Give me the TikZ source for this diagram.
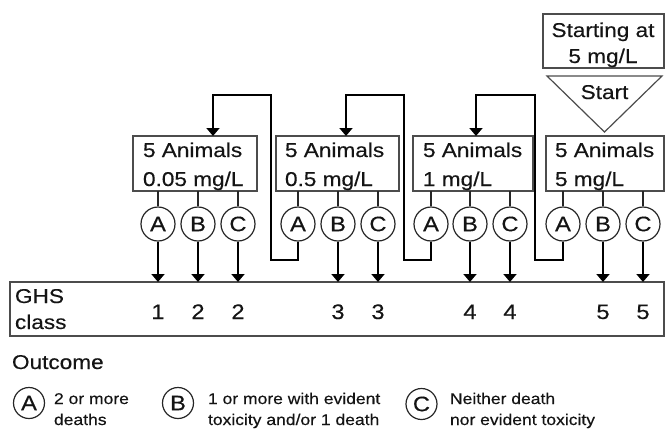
\documentclass[tikz,border=0pt]{standalone}
\usepackage{fontspec}
\setmainfont{Liberation Sans}[FakeStretch=1.13, FakeBold=0.35]
\usetikzlibrary{arrows.meta}
\newcommand\fsz[2]{\fontsize{#1}{#2}\selectfont}
\tikzset{
  x=1pt, y=-1pt,
  frame/.style={draw=black!70, line width=1.2pt, inner sep=0pt, outer sep=0pt},
  txt/.style={inner sep=0pt, outer sep=0pt, text=black!92, font=\fsz{20}{24}},
  small/.style={txt, font=\fsz{15.5}{18}},
  outc/.style={circle, draw=black!85, line width=1.2pt, minimum size=34pt,
    inner sep=0pt, text=black!92, font=\fsz{21}{21}},
  legc/.style={outc, minimum size=31pt},
  conn/.style={line width=1.8pt, black},
  arr/.style={conn, -{Triangle[length=8pt, width=13pt]}},
}
\begin{document}
\begin{tikzpicture}
\useasboundingbox (0,0) rectangle (665,429);

% starting dose and start marker
\node[frame, minimum width=121pt, minimum height=54pt] (sbox) at (603.5,41) {};
\node[txt, anchor=base] (st1) at (603,37) {Starting at};
\node[txt, anchor=base] (st2) at (603,63) {5 mg/L};
\draw[frame] (547,76) -- (662,76) -- (604.5,132) -- cycle;
\node[txt, anchor=base] (stx) at (604.5,99) {Start};

% dose groups
\node[frame, minimum width=124pt, minimum height=55pt] (b1) at (195,163.5) {};
\node[frame, minimum width=123pt, minimum height=55pt] (b2) at (337.5,163.5) {};
\node[frame, minimum width=120pt, minimum height=55pt] (b3) at (473,163.5) {};
\node[frame, minimum width=118pt, minimum height=55pt] (b4) at (605,163.5) {};
\node[txt, anchor=base west] (b1a) at (143,157) {5 Animals};
\node[txt, anchor=base west] (b1b) at (143,186) {0.05 mg/L};
\node[txt, anchor=base west] (b2a) at (285,157) {5 Animals};
\node[txt, anchor=base west] (b2b) at (285,186) {0.5 mg/L};
\node[txt, anchor=base west] (b3a) at (423,157) {5 Animals};
\node[txt, anchor=base west] (b3b) at (423,186) {1 mg/L};
\node[txt, anchor=base west] (b4a) at (555,157) {5 Animals};
\node[txt, anchor=base west] (b4b) at (555,186) {5 mg/L};

% outcomes
\foreach \g/\xa/\xb/\xc in {1/158/198/238, 2/298/338/378, 3/431/470/510, 4/563/603/643}{
  \node[outc] (c\g a) at (\xa,224) {A};
  \node[outc] (c\g b) at (\xb,224) {B};
  \node[outc] (c\g c) at (\xc,224) {C};
  \foreach \o in {a,b,c}{
    \draw[line width=1.3pt, black!85] (b\g.south -| c\g\o) -- (c\g\o);
  }
}

% GHS classification row
\node[frame, minimum width=654pt, minimum height=54pt] (ghs) at (337,309) {};
\node[txt, anchor=base west] (g1) at (15,303) {GHS};
\node[txt, anchor=base west] (g2) at (15,329) {class};
\foreach \n/\c/\v in {n1/c1a/1, n2/c1b/2, n3/c1c/2, n4/c2b/3, n5/c2c/3,
                      n6/c3b/4, n7/c3c/4, n8/c4b/5, n9/c4c/5}{
  \draw[arr] (\c) -- (\c |- ghs.north);
  \node[txt, anchor=base, font=\fsz{21}{21}] (\n) at ([yshift=-37pt]\c |- ghs.north) {\v};
}

% step down to the next lower dose
\coordinate (r1) at (271,260); \coordinate (t1) at (213,95);
\coordinate (r2) at (404,260); \coordinate (t2) at (346,95);
\coordinate (r3) at (535,260); \coordinate (t3) at (476,95);
\draw[arr] (c2a.south) |- (r1) |- (t1) -- (b1.north -| t1);
\draw[arr] (c3a.south) |- (r2) |- (t2) -- (b2.north -| t2);
\draw[arr] (c4a.south) |- (r3) |- (t3) -- (b3.north -| t3);

% legend
\node[txt, anchor=base west] (oc) at (12,369) {Outcome};
\node[legc] (la) at (29,403) {A};
\node[small, anchor=base west] (la1) at (54,404) {2 or more};
\node[small, anchor=base west] (la2) at (54,425) {deaths};
\node[legc] (lb) at (178,403) {B};
\node[small, anchor=base west] (lb1) at (208,404) {1 or more with evident};
\node[small, anchor=base west] (lb2) at (208,425) {toxicity and/or 1 death};
\node[legc] (lc) at (421.5,404) {C};
\node[small, anchor=base west] (lc1) at (450,404) {Neither death};
\node[small, anchor=base west] (lc2) at (450,425) {nor evident toxicity};
\end{tikzpicture}
\end{document}
